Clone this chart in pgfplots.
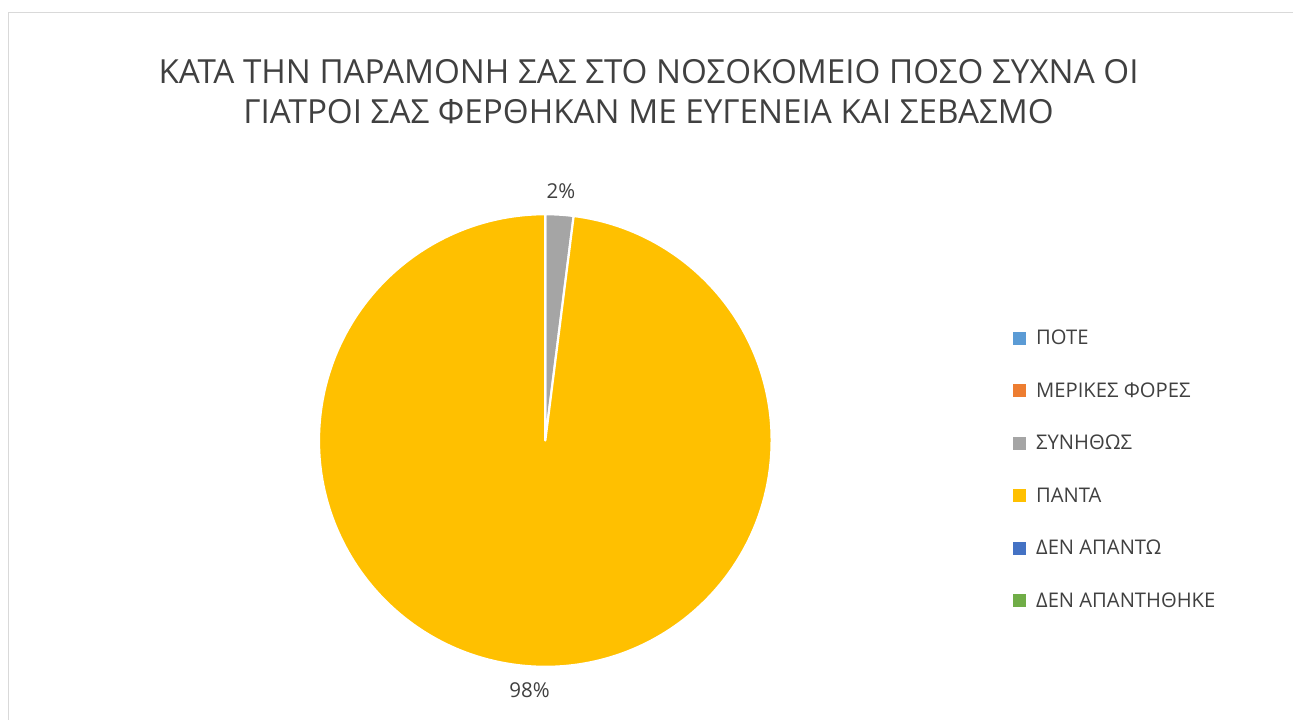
\documentclass[border=0pt]{standalone}
\usepackage{pgfplots}
\pgfplotsset{compat=1.18}
\usepackage{pgfplotstable}
\usepackage{fontspec}
\setmainfont{Open Sans}
\definecolor{txt}{HTML}{404040}
\definecolor{frame}{HTML}{D9D9D9}
\definecolor{c0}{HTML}{5B9BD5}
\definecolor{c1}{HTML}{ED7D31}
\definecolor{c2}{HTML}{A5A5A5}
\definecolor{c3}{HTML}{FFC000}
\definecolor{c4}{HTML}{4472C4}
\definecolor{c5}{HTML}{70AD47}
\newcommand\lblfont{\fontsize{20.5}{24}\selectfont}
\newcommand\legfont{\fontsize{20.2}{24}\selectfont}
\newcommand\titfont{\fontsize{33.2}{40}\selectfont}
\pgfplotstableread[col sep=comma]{
label,value
ΠΟΤΕ,0
ΜΕΡΙΚΕΣ ΦΟΡΕΣ,0
ΣΥΝΗΘΩΣ,2
ΠΑΝΤΑ,98
ΔΕΝ ΑΠΑΝΤΩ,0
ΔΕΝ ΑΠΑΝΤΗΘΗΚΕ,0
}\piedata
\begin{document}
\begin{tikzpicture}[x=1pt,y=1pt]
\useasboundingbox (0,0) rectangle (1293,-720);
\clip (0,0) rectangle (1293,-720);
\draw[frame, line width=1pt] (8.5,-12.5) rectangle (1320,-740);
% title
\node[anchor=base, text=txt, font=\titfont, inner sep=0pt] at (648.5,-83.3) {ΚΑΤΑ ΤΗΝ ΠΑΡΑΜΟΝΗ ΣΑΣ ΣΤΟ ΝΟΣΟΚΟΜΕΙΟ ΠΟΣΟ ΣΥΧΝΑ ΟΙ};
\node[anchor=base, text=txt, font=\titfont, inner sep=0pt] at (648.5,-123.3) {ΓΙΑΤΡΟΙ ΣΑΣ ΦΕΡΘΗΚΑΝ ΜΕ ΕΥΓΕΝΕΙΑ ΚΑΙ ΣΕΒΑΣΜΟ};
\begin{axis}[
  at={(545.3pt,-440.5pt)}, anchor=center,
  scale only axis, width=450.6pt, height=450.6pt,
  xmin=-1, xmax=1, ymin=-1, ymax=1,
  hide axis, clip=false,
]
\addplot[draw=none, forget plot] coordinates {(0,0)};
\def\cumul{0}
\pgfplotsforeachungrouped \i in {0,...,5}{%
  \pgfplotstablegetelem{\i}{value}\of\piedata
  \let\v\pgfplotsretval
  \pgfmathsetmacro\a{90-3.6*\cumul}%
  \pgfmathsetmacro\b{90-3.6*(\cumul+\v)}%
  \pgfmathsetmacro\m{90-3.6*(\cumul+\v/2)}%
  \ifdim\v pt>0pt
    \edef\temp{\noexpand\fill[c\i, draw=white, line width=2.2pt, line join=round] (axis cs:0,0) -- ++(\a:226.3pt) arc[start angle=\a, end angle=\b, radius=226.3pt] -- cycle;
      \noexpand\path (axis cs:0,0) ++(\m:250pt) node[text=txt, font=\noexpand\lblfont, inner sep=0pt] {\v\%};}%
    \temp
  \fi
  \pgfmathsetmacro\cumul{\cumul+\v}%
}
\end{axis}
% legend
\foreach \i/\yc in {0/338,1/390.5,2/443,3/495.5,4/548,5/600.5}{
  \pgfplotstablegetelem{\i}{label}\of\piedata
  \fill[c\i] (1012.7,-\yc+6.5) rectangle (1026,-\yc-6.5);
  \node[anchor=base west, text=txt, font=\legfont, inner sep=0pt] at (1036,-\yc-6.8) {\pgfplotsretval};
}
\end{tikzpicture}
\end{document}
